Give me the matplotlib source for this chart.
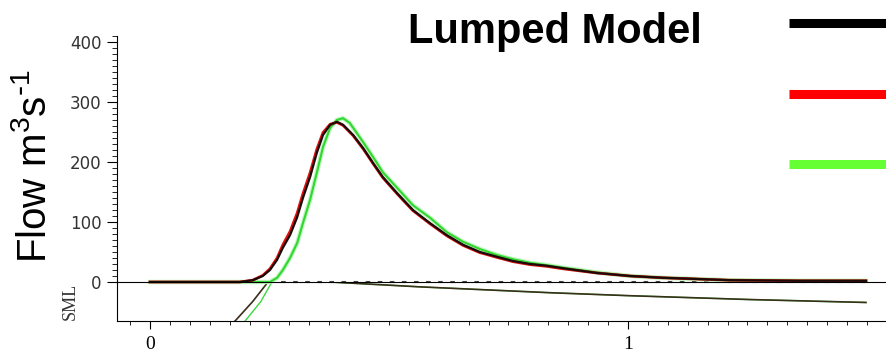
import matplotlib
matplotlib.use('Agg')
import matplotlib.pyplot as plt
from matplotlib.lines import Line2D
from matplotlib.ticker import MultipleLocator

# Flow hydrograph (time in days, flow in m3/s)
t_obs = [0, 0.188, 0.215, 0.236, 0.251, 0.266, 0.278, 0.293, 0.308, 0.320,
         0.335, 0.349, 0.362, 0.377, 0.391, 0.404, 0.425, 0.446, 0.467, 0.487,
         0.517, 0.550, 0.586, 0.621, 0.655, 0.690, 0.726, 0.759, 0.795, 0.831,
         0.864, 0.935, 1.004, 1.073, 1.144, 1.213, 1.36, 1.498]
q_obs = [0, 0, 3, 10, 20, 37, 57, 78, 108, 140,
         175, 215, 245, 262, 267, 262, 245, 223, 198, 175,
         148, 120, 98, 78, 62, 50, 42, 35, 30, 27,
         23, 15, 10, 7, 5, 3, 2, 2]

t_red = t_obs
q_red = [0, 0, 3, 11, 22, 40, 62, 84, 115, 147,
         182, 221, 249, 263, 266, 261, 244, 222, 197, 174,
         147, 119, 97, 77, 61, 49, 41, 34, 29, 26,
         22, 15, 10, 7, 5, 3, 2, 2]

t_green = [0, 0.2, 0.251, 0.266, 0.278, 0.293, 0.308, 0.320, 0.335, 0.349,
           0.362, 0.377, 0.391, 0.404, 0.418, 0.425, 0.446, 0.467, 0.487, 0.517,
           0.550, 0.586, 0.621, 0.655, 0.690, 0.726, 0.759, 0.795, 0.831, 0.864,
           0.935, 1.004, 1.073, 1.144, 1.213, 1.36, 1.498]
q_green = [0, 0, 0, 7, 20, 40, 65, 98, 137, 182,
           225, 257, 270, 273, 265, 257, 233, 208, 183, 157,
           128, 107, 83, 67, 55, 45, 38, 32, 28, 24,
           16, 10, 7, 5, 3, 2, 2]

# Soil moisture (arbitrary units, 0 = full)
t_sml = [0.16, 0.178, 0.215, 0.247, 0.377, 0.565, 0.837, 1.0, 1.255, 1.498]
sml_black = [-48, -40, -20, 0, 0, -5, -11, -14, -18, -21]
t_sml_green = [0.18, 0.199, 0.232, 0.255, 0.377, 0.565, 0.837, 1.0, 1.255, 1.498]
sml_green = [-48, -40, -20, 0, 0, -5, -11, -14, -18, -21]
sml_cap_t = [0.25, 1.5]
sml_cap = [0, 0]

legend_colors = ['black', '#ff0000', '#66ff33']


def style_flow_axis(ax):
    for side in ['top', 'right']:
        ax.spines[side].set_visible(False)
    ax.patch.set_visible(False)
    ax.set_xlim(-0.069, 1.542)
    ax.set_ylim(0, 410)
    ax.set_yticks([0, 100, 200, 300, 400])
    ax.yaxis.set_minor_locator(MultipleLocator(10))
    ax.tick_params(axis='y', which='major', length=7, width=0.8, pad=4,
                   labelsize=12, labelcolor='#333333')
    ax.tick_params(axis='y', which='minor', length=3.5, width=0.6)
    ax.tick_params(axis='x', which='both', bottom=False, labelbottom=False)


def style_sml_axis(ax):
    for side in ['top', 'right']:
        ax.spines[side].set_visible(False)
    ax.patch.set_visible(False)
    ax.set_xlim(-0.069, 1.542)
    ax.set_ylim(-40, 0)
    ax.set_yticks([])
    ax.set_xticks([0, 1])
    ax.xaxis.set_minor_locator(MultipleLocator(1 / 24))
    ax.tick_params(axis='x', which='major', length=6, width=0.8, pad=5, labelsize=14)
    ax.tick_params(axis='x', which='minor', length=3, width=0.6)
    for lab in ax.get_xticklabels():
        lab.set_family('Liberation Serif')


def draw_chart():
    fig = plt.figure(figsize=(8.87, 3.56), dpi=100)
    ax_sml = fig.add_axes([0.1319, 0.0983, 0.8681, 0.1096])
    ax_flow = fig.add_axes([0.1319, 0.2079, 0.8681, 0.691])
    style_flow_axis(ax_flow)
    style_sml_axis(ax_sml)

    ax_flow.plot(t_green, q_green, color='#bff5bf', lw=3.2, clip_on=False)
    ax_flow.plot(t_green, q_green, color='#2fd82f', lw=1.5, clip_on=False)
    ax_flow.plot(t_red, q_red, color='#e01010', lw=2.0, clip_on=False)
    ax_flow.plot(t_obs, q_obs, color='#1a0a0a', lw=1.6, clip_on=False)

    ax_sml.plot(sml_cap_t, sml_cap, color='#444444', lw=1.5,
                linestyle=(0, (2.2, 3.6)), clip_on=False)
    ax_sml.plot(t_sml_green, sml_green, color='#3cd83c', lw=1.0)
    ax_sml.plot(t_sml, sml_black, color='#3a2e1c', lw=1.2)

    fig.text(0.039, 0.534, 'Flow m$\\mathregular{^3}$s$\\mathregular{^{\\text{-}1}}$',
             rotation=90, ha='center', va='center', fontsize=29,
             family='Liberation Sans')
    fig.text(0.079, 0.153, 'SML', rotation=90, ha='center', va='center',
             fontsize=13, family='Liberation Serif', color='#333333')
    fig.text(0.6257, 0.879, 'Lumped Model', ha='center', va='baseline',
             fontsize=30, fontweight='bold', family='Liberation Sans')

    # legend swatches (labels fall outside the frame)
    for color, y in zip(legend_colors, [0.935, 0.736, 0.539]):
        fig.add_artist(Line2D([0.8895, 1.0], [y, y], color=color, lw=6.5,
                              transform=fig.transFigure, solid_capstyle='butt'))

    fig.savefig('out.png', dpi=100)


if __name__ == '__main__':
    draw_chart()
